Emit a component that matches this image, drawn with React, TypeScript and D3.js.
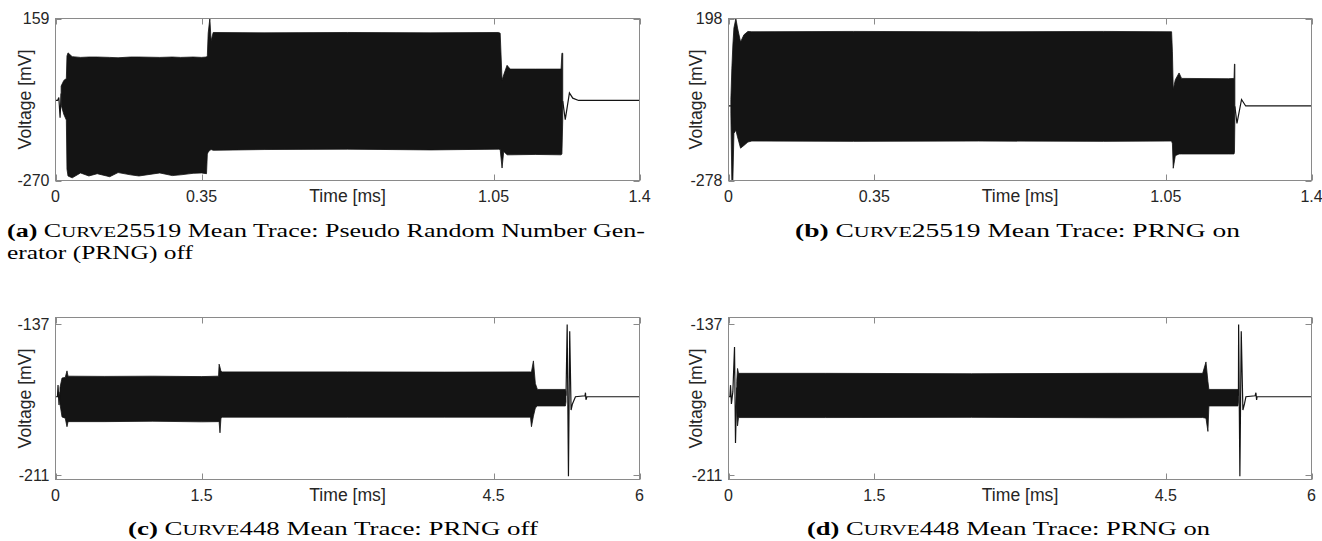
import React from "react";
import * as d3 from "d3";

// ---------- DATA ----------
// Panel (a): CURVE25519, PRNG off. Band rows: [time ms, upper mV, lower mV]
const aBand: [number, number, number][] = [
  [0.0135, -20, -70], [0.02, -5, -95], [0.026, 0, -110], [0.0275, 60, -240],
  [0.03, 68, -258], [0.04, 58, -263], [0.06, 56, -250], [0.08, 57, -258], [0.1, 57, -252],
  [0.13, 56, -260], [0.15, 55, -249], [0.18, 57, -255], [0.2, 57, -258], [0.25, 56, -250],
  [0.28, 57, -257], [0.3, 56, -255], [0.33, 57, -251], [0.35, 56, -250], [0.362, 57, -252],
  [0.364, 60, -200], [0.366, 120, -195], [0.37, 159, -190], [0.373, 100, -188],
  [0.378, 122, -190], [0.5, 121, -188], [0.7, 122, -187], [0.9, 121, -189],
  [1.062, 122, -187], [1.066, 120, -188], [1.0705, -4, -237], [1.0745, 10, -193],
  [1.0825, 35, -202], [1.09, 25, -202], [1.15, 25, -201], [1.212, 25, -202],
  [1.214, 67, -200], [1.216, 67, -110],
];
// Line parts of (a): [time ms, mV]
const aTrace: [number, number][] = [
  [0, -58], [0.005, -58], [0.008, -50], [0.011, -104], [0.0135, -40],
];
const aTail: [number, number][] = [
  [1.216, -60], [1.222, -109], [1.232, -38], [1.24, -52], [1.254, -58], [1.4, -58],
];
const aXTicks = [0, 0.35, 1.05, 1.4];
const aYTicks = [-270, 159];

// Panel (b): CURVE25519, PRNG on
const bBand: [number, number, number][] = [
  [0.0057, -40, -80], [0.008, 50, -278], [0.0105, 120, -278], [0.013, 170, -140],
  [0.0177, 198, -130], [0.0217, 170, -150], [0.029, 129, -183], [0.037, 150, -175],
  [0.0466, 160, -165], [0.056, 159, -162], [0.3, 160, -163], [0.6, 159, -162],
  [0.9, 160, -163], [1.064, 159, -162], [1.066, 100, -170], [1.068, -10, -242],
  [1.073, 18, -205], [1.082, 38, -200], [1.088, 22, -200], [1.2, 21, -200],
  [1.214, 22, -200], [1.215, 64, -195], [1.216, 64, -100],
];
const bTrace: [number, number][] = [[0, -59], [0.0057, -59]];
const bTail: [number, number][] = [
  [1.216, -60], [1.221, -110], [1.232, -40], [1.242, -59], [1.26, -59], [1.4, -59],
];
const bXTicks = [0, 0.35, 1.05, 1.4];
const bYTicks = [-278, 198];

// Panel (c): CURVE448, PRNG off
const cBand: [number, number, number][] = [
  [0.046, -168, -176], [0.067, -163.3, -182.4], [0.1, -163, -183], [0.118, -159.8, -187.2],
  [0.129, -162.4, -184.7], [0.5, -162.5, -184.7], [1.0, -162.4, -184.5], [1.5, -162.6, -184.8],
  [1.675, -162.4, -184.7], [1.681, -156.5, -185], [1.69, -158, -190.2], [1.7, -160, -183],
  [1.712, -160.3, -182.5], [3.0, -160.3, -182.5], [4.0, -160.4, -182.5], [4.88, -160.3, -182.5],
  [4.89, -160.3, -187.2], [4.91, -154.9, -182], [4.93, -166, -178], [4.951, -168.9, -177],
  [5.239, -168.9, -177], [5.245, -170, -175],
];
const cTrace: [number, number][] = [
  [0, -172.5], [0.02, -172.5], [0.026, -166.8], [0.036, -176.5], [0.046, -170],
];
const cTail: [number, number][] = [
  [5.245, -172], [5.257, -137], [5.27, -211.5], [5.283, -140.3], [5.297, -179],
  [5.311, -176], [5.342, -172.5], [5.44, -172], [5.445, -170.5], [5.45, -174], [5.46, -172.5], [6, -172.5],
];
const cXTicks = [0, 1.5, 4.5, 6];
const cYTicks = [-211, -137];

// Panel (d): CURVE448, PRNG on
const dBand: [number, number, number][] = [
  [0.085, -165, -180], [0.093, -158.6, -186.8], [0.103, -161, -182.7], [1.0, -161, -182.7],
  [2.5, -161.2, -182.6], [4.0, -161, -182.8], [4.88, -161, -182.7], [4.914, -155.4, -183],
  [4.934, -165, -189.5], [4.944, -168.9, -177], [5.243, -168.9, -177], [5.248, -170, -175],
];
const dTrace: [number, number][] = [
  [0, -172.5], [0.015, -172.5], [0.021, -166.8], [0.03, -176], [0.045, -170],
  [0.062, -148.1], [0.072, -195.2], [0.085, -168],
];
const dTail: [number, number][] = [
  [5.248, -172], [5.25, -137], [5.263, -211.5], [5.277, -140.3], [5.294, -179],
  [5.31, -176], [5.325, -172.5], [5.42, -172], [5.428, -170.5], [5.435, -174], [5.44, -172.5], [6, -172.5],
];
const dXTicks = [0, 1.5, 4.5, 6];
const dYTicks = [-211, -137];

const xLabel = "Time [ms]";
const yLabel = "Voltage [mV]";

// ---------- LAYOUT ----------
type PanelCfg = {
  id: string;
  band: [number, number, number][];
  trace: [number, number][];
  tail: [number, number][];
  xTicks: number[];
  yTicks: number[];
  xDomain: [number, number];
  yDomain: [number, number];
  left: number; right: number; top: number; bottom: number;
  labelMid: number;
  ylabelX: number;
};

const panels: PanelCfg[] = [
  { id: "a", band: aBand, trace: aTrace, tail: aTail, xTicks: aXTicks, yTicks: aYTicks,
    xDomain: [0, 1.4], yDomain: [-270, 159], left: 55.5, right: 639.5, top: 18.5, bottom: 180.5, labelMid: 0.7, ylabelX: 25 },
  { id: "b", band: bBand, trace: bTrace, tail: bTail, xTicks: bXTicks, yTicks: bYTicks,
    xDomain: [0, 1.4], yDomain: [-278, 198], left: 728.5, right: 1311.5, top: 18.5, bottom: 180.5, labelMid: 0.7, ylabelX: 695.5 },
  { id: "c", band: cBand, trace: cTrace, tail: cTail, xTicks: cXTicks, yTicks: cYTicks,
    xDomain: [0, 6], yDomain: [-213.1, -133.6], left: 55.5, right: 639.5, top: 317.5, bottom: 479.5, labelMid: 3, ylabelX: 25 },
  { id: "d", band: dBand, trace: dTrace, tail: dTail, xTicks: dXTicks, yTicks: dYTicks,
    xDomain: [0, 6], yDomain: [-213.1, -133.6], left: 728.5, right: 1311.5, top: 317.5, bottom: 479.5, labelMid: 3, ylabelX: 695.5 },
];

const AX = "#8a8a8a";
const TXT = "#262626";
const INK = "#141414";
const SANS = "Arial, 'Liberation Sans', Helvetica, sans-serif";
const SERIF = "'Liberation Serif', 'DejaVu Serif', serif";
const TICK_FS = 16;
const LABEL_FS = 17.6;

function fmt(v: number) {
  return String(v);
}

function Panel({ p }: { p: PanelCfg }) {
  const x = d3.scaleLinear().domain(p.xDomain).range([p.left, p.right]);
  const y = d3.scaleLinear().domain(p.yDomain).range([p.bottom, p.top]);
  const area = d3
    .area<[number, number, number]>()
    .x((d) => x(d[0]))
    .y0((d) => y(d[2]))
    .y1((d) => y(d[1]));
  const line = d3
    .line<[number, number]>()
    .x((d) => x(d[0]))
    .y((d) => y(d[1]));
  const clipId = `clip-${p.id}`;
  const tl = 6;
  const tickY = p.bottom + 21.5;
  return (
    <g>
      <defs>
        <clipPath id={clipId}>
          <rect x={p.left} y={p.top - 1} width={p.right - p.left} height={p.bottom - p.top + 2} />
        </clipPath>
      </defs>
      <g clipPath={`url(#${clipId})`}>
        <path d={area(p.band) || ""} fill={INK} stroke={INK} strokeWidth={0.8} strokeLinejoin="round" />
        <path d={line(p.trace) || ""} fill="none" stroke={INK} strokeWidth={1.2} />
        <path d={line(p.tail) || ""} fill="none" stroke={INK} strokeWidth={1.2} />
      </g>
      <rect x={p.left} y={p.top} width={p.right - p.left} height={p.bottom - p.top} fill="none" stroke={AX} strokeWidth={1} />
      {p.xTicks.map((t) => (
        <g key={`xt${t}`}>
          <line x1={Math.round(x(t)) + 0.5} x2={Math.round(x(t)) + 0.5} y1={p.bottom} y2={p.bottom - tl} stroke={AX} />
          <line x1={Math.round(x(t)) + 0.5} x2={Math.round(x(t)) + 0.5} y1={p.top} y2={p.top + tl} stroke={AX} />
          <text x={x(t)} y={tickY} textAnchor="middle" fontFamily={SANS} fontSize={TICK_FS} fill={TXT}>
            {fmt(t)}
          </text>
        </g>
      ))}
      <text x={x(p.labelMid)} y={tickY} textAnchor="middle" fontFamily={SANS} fontSize={LABEL_FS} fill={TXT}>
        {xLabel}
      </text>
      {p.yTicks.map((t) => (
        <g key={`yt${t}`}>
          <line x1={p.left} x2={p.left + tl} y1={Math.round(y(t)) + 0.5} y2={Math.round(y(t)) + 0.5} stroke={AX} />
          <line x1={p.right} x2={p.right - tl} y1={Math.round(y(t)) + 0.5} y2={Math.round(y(t)) + 0.5} stroke={AX} />
          <text x={p.left - 6} y={y(t)} dy="0.35em" textAnchor="end" fontFamily={SANS} fontSize={TICK_FS} fill={TXT}>
            {fmt(t)}
          </text>
        </g>
      ))}
      <text
        transform={`translate(${p.ylabelX},${(p.top + p.bottom) / 2}) rotate(-90)`}
        textAnchor="middle"
        dy="0.35em"
        fontFamily={SANS}
        fontSize={LABEL_FS}
        fill={TXT}
      >
        {yLabel}
      </text>
    </g>
  );
}

function Curve({ num }: { num: string }) {
  return (
    <>
      <tspan>C</tspan>
      <tspan fontSize="0.8em">URVE</tspan>
      <tspan>{num}</tspan>
    </>
  );
}

export default function App() {
  const cap = { fontFamily: SERIF, fontSize: 18.5, fill: "#000" } as const;
  return (
    <svg
      width={1322}
      height={541}
      viewBox="0 0 1322 541"
      style={{ position: "absolute", left: 0, top: 0, background: "#fff" }}
    >
      <rect x={0} y={0} width={1322} height={541} fill="#fff" />
      {panels.map((p) => (
        <Panel key={p.id} p={p} />
      ))}
      <text x={7} y={237} {...cap} textLength={638} lengthAdjust="spacingAndGlyphs">
        <tspan fontWeight="bold">(a)</tspan> <Curve num="25519" /> Mean Trace: Pseudo Random Number Gen-
      </text>
      <text x={7} y={259} {...cap} textLength={186} lengthAdjust="spacingAndGlyphs">
        erator (PRNG) off
      </text>
      <text x={795} y={237} {...cap} textLength={445} lengthAdjust="spacingAndGlyphs">
        <tspan fontWeight="bold">(b)</tspan> <Curve num="25519" /> Mean Trace: PRNG on
      </text>
      <text x={128} y={535} {...cap} textLength={410} lengthAdjust="spacingAndGlyphs">
        <tspan fontWeight="bold">(c)</tspan> <Curve num="448" /> Mean Trace: PRNG off
      </text>
      <text x={807} y={535} {...cap} textLength={403} lengthAdjust="spacingAndGlyphs">
        <tspan fontWeight="bold">(d)</tspan> <Curve num="448" /> Mean Trace: PRNG on
      </text>
    </svg>
  );
}
